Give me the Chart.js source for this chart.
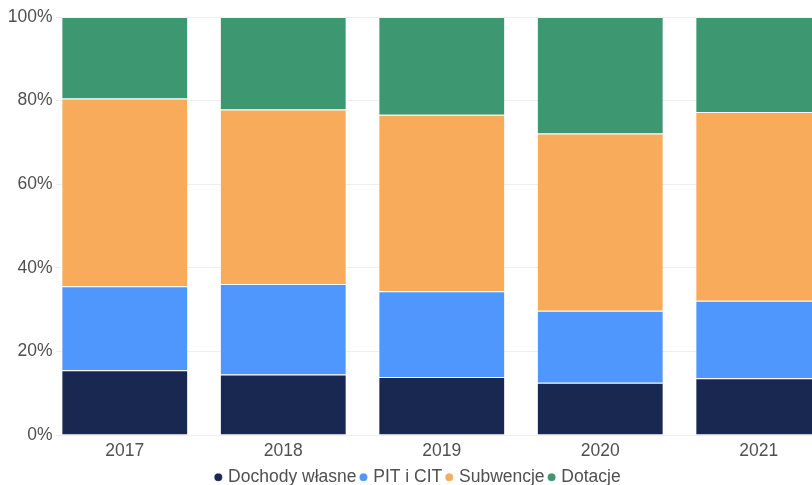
<!DOCTYPE html>
<html>
<head>
<meta charset="utf-8">
<script src="https://cdn.jsdelivr.net/npm/chart.js@4/dist/chart.umd.min.js"></script>
<style>
  html, body { margin: 0; padding: 0; overflow: hidden; background: #fff; }
  #wrap { width: 840px; height: 496px; }
</style>
</head>
<body>
<div id="wrap"><canvas id="barChart"></canvas></div>
<script>
// data (share of budget, %)
var years = ["2017", "2018", "2019", "2020", "2021"];
var dochodyWlasne = [15.5, 14.5, 13.9, 12.5, 13.6];
var pitCit = [20.1, 21.6, 20.5, 17.2, 18.5];
var subwencje = [44.9, 41.8, 42.2, 42.4, 45.2];
var dotacje = [19.5, 22.1, 23.4, 27.9, 22.7];
var yTicks = [0, 20, 40, 60, 80, 100];

Chart.defaults.font.family = "'Liberation Sans', Arial, sans-serif";
Chart.defaults.font.size = 17.5;
Chart.defaults.color = '#505050';

function ds(label, data, color) {
	return {
		label: label,
		data: data,
		backgroundColor: color,
		borderColor: 'rgba(255,255,255,0.25)',
		borderWidth: 1,
		barPercentage: 0.8,
		categoryPercentage: 1.0
	};
}

var ctx = document.getElementById("barChart").getContext('2d');
var myChart = new Chart(ctx, {
	type: 'bar',
	data: {
		labels: years,
		datasets: [
			ds("Dochody własne", dochodyWlasne, '#182851'),
			ds("PIT i CIT", pitCit, '#4f97fd'),
			ds("Subwencje", subwencje, '#f7ab5b'),
			ds("Dotacje", dotacje, '#3d9872')
		]
	},
	options: {
		responsive: true,
		maintainAspectRatio: false,
		animation: false,
		layout: { padding: { top: 17, right: 2, left: 0, bottom: 0 } },
		plugins: {
			tooltip: { enabled: false },
			legend: {
				position: 'bottom',
				labels: {
					usePointStyle: true,
					pointStyle: 'circle',
					boxWidth: 2,
					boxHeight: 5.7,
					padding: 6
				}
			}
		},
		scales: {
			x: {
				type: 'linear',
				stacked: true,
				offset: false,
				min: 2016.563,
				max: 2021.5,
				afterBuildTicks: function (scale) {
					scale.ticks = years.map(function (y) { return { value: +y }; });
				},
				afterFit: function (scale) { scale.height = 27.5; },
				grid: { display: false, drawTicks: false },
				border: { display: false },
				ticks: {
					padding: 5.5,
					callback: function (v) { return String(v); }
				}
			},
			y: {
				stacked: true,
				min: 0,
				max: 100,
				afterBuildTicks: function (scale) {
					scale.ticks = yTicks.map(function (v) { return { value: v }; });
				},
				afterFit: function (scale) { scale.width = 55.5; },
				grid: { color: '#eeeeee', drawTicks: false },
				border: { display: false },
				ticks: {
					padding: 3,
					callback: function (v) { return v + '%'; }
				}
			}
		}
	}
});
</script>
</body>
</html>
